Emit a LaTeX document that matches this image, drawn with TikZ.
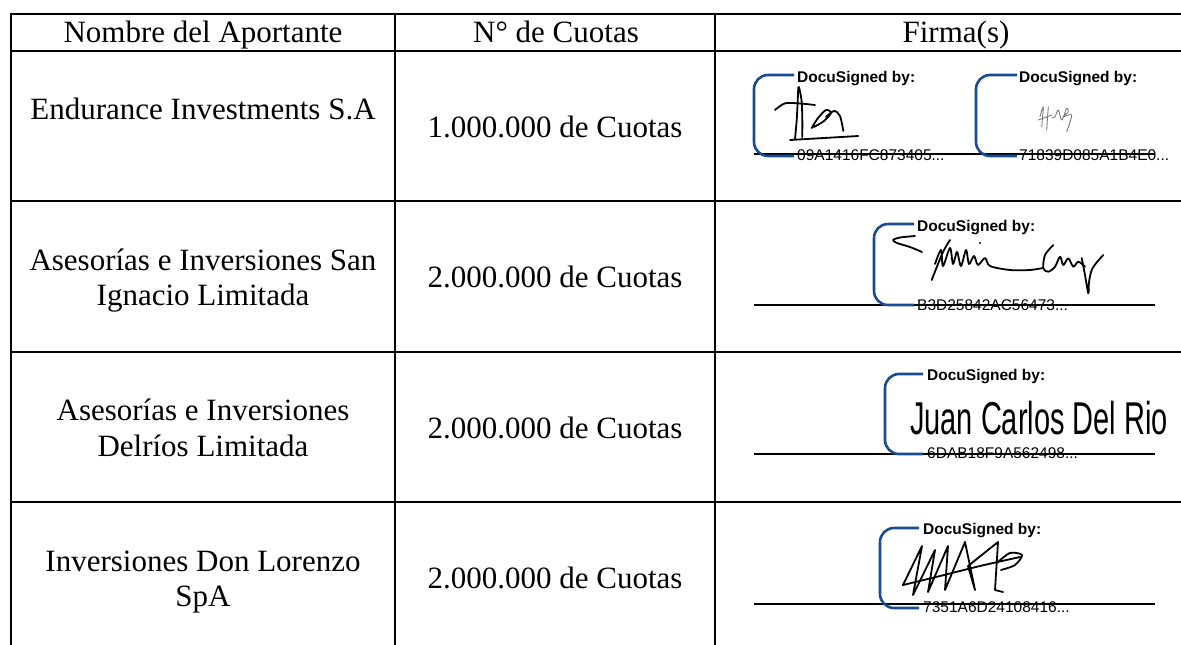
\documentclass[tikz,border=0pt]{standalone}
\usepackage{fontspec}
\setmainfont{Liberation Serif}
\newfontfamily\arialfont{Liberation Sans}
\definecolor{dsblue}{RGB}{25,75,145}
\definecolor{siggray}{RGB}{110,110,110}
\tikzset{
  gridline/.style={line width=2.7pt, line cap=rect},
  celltext/.style={inner sep=0pt, anchor=base, font=\fontsize{31}{37}\selectfont},
  dsbracket/.style={draw=dsblue, line width=2.6pt, rounded corners=14pt},
  dslabel/.style={inner sep=0pt, anchor=base west, font=\arialfont\bfseries\fontsize{15.5}{18}\selectfont},
  dshash/.style={inner sep=0pt, anchor=base west, font=\arialfont\fontsize{15.5}{18}\selectfont},
  sigline/.style={line width=1.4pt},
  sigstroke/.style={line width=1.8pt, line cap=round, line join=round},
  faintstroke/.style={draw=siggray, line width=0.8pt, line cap=round, line join=round},
  handwriting/.style={inner sep=0pt, anchor=base west, font=\arialfont\fontsize{46}{50}\selectfont},
}
\begin{document}
\begin{tikzpicture}[x=1pt,y=-1pt]
\useasboundingbox (0,0) rectangle (1181,645);
\fill[white] (0,0) rectangle (1181,645);

% ---- grid ----
\draw[gridline] (11,14) -- (1195,14);
\draw[gridline] (11,51) -- (1195,51);
\draw[gridline] (11,201) -- (1195,201);
\draw[gridline] (11,352) -- (1195,352);
\draw[gridline] (11,502) -- (1195,502);
\draw[gridline] (11,14) -- (11,660);
\draw[gridline] (395,14) -- (395,660);
\draw[gridline] (715,14) -- (715,660);

% ---- header ----
\node[celltext] (h1) at (203,42) {Nombre del Aportante};
\node[celltext] (h2) at (556,42) {N° de Cuotas};
\node[celltext] (h3) at (956,42) {Firma(s)};

% ---- rows ----
\node[celltext] (r1a) at (203,119) {Endurance Investments S.A};
\node[celltext] (r1b) at (555,137) {1.000.000 de Cuotas};

\node[celltext] (r2a) at (203,270) {Asesorías e Inversiones San};
\node[celltext] (r2a2) at (203,305) {Ignacio Limitada};
\node[celltext] (r2b) at (555,287) {2.000.000 de Cuotas};

\node[celltext] (r3a) at (203,420) {Asesorías e Inversiones};
\node[celltext] (r3a2) at (203,456) {Delríos Limitada};
\node[celltext] (r3b) at (555,438) {2.000.000 de Cuotas};

\node[celltext] (r4a) at (203,571) {Inversiones Don Lorenzo};
\node[celltext] (r4a2) at (203,606) {SpA};
\node[celltext] (r4b) at (555,588) {2.000.000 de Cuotas};

% ---- signature lines ----
\draw[sigline] (754,154) -- (1155,154);
\draw[sigline] (754,305) -- (1155,305);
\draw[sigline] (754,454) -- (1155,454);
\draw[sigline] (754,604) -- (1155,604);

% ---- DocuSign brackets ----
\draw[dsbracket] (794,75) -- (754,75) -- (754,156) -- (794,156);
\node[dslabel] (ds1) at (797,82) {DocuSigned by:};
\node[dshash] (hs1) at (797,160.5) {09A1416FC873405...};

\draw[dsbracket] (1017,75) -- (976,75) -- (976,156) -- (1017,156);
\node[dslabel] (ds2) at (1019,82) {DocuSigned by:};
\node[dshash] (hs2) at (1019,160.5) {71839D085A1B4E0...};

\draw[dsbracket] (914,224) -- (874,224) -- (874,305) -- (914,305);
\node[dslabel] (ds3) at (917,231) {DocuSigned by:};
\node[dshash] (hs3) at (917,310) {B3D25842AC56473...};

\draw[dsbracket] (923,374) -- (885,374) -- (885,454) -- (923,454);
\node[dslabel] (ds4) at (927,380) {DocuSigned by:};
\node[dshash] (hs4) at (927,458.5) {6DAB18F9A562498...};

\draw[dsbracket] (919,528) -- (880,528) -- (880,608) -- (919,608);
\node[dslabel] (ds5) at (923,534) {DocuSigned by:};
\node[dshash] (hs5) at (923,612.5) {7351A6D24108416...};

% ---- signature 1 (row 1, left) ----
\draw[sigstroke] plot[smooth] coordinates {(798.3,87.3) (797.5,105) (796.7,120) (795,139.3)};
\draw[sigstroke] plot[smooth] coordinates {(799,87) (801.5,100) (802.3,116.7) (802.3,137.3)};
\draw[sigstroke] plot[smooth] coordinates {(775,110) (785,103.3) (800,103.5) (815,105)};
\draw[sigstroke] plot[smooth] coordinates {(811.7,128) (818,118) (826,110) (831,113) (824,121) (814,127)};
\draw[sigstroke] plot[smooth] coordinates {(826,117) (834,111) (840,116) (843.3,131)};
\draw[sigstroke] (790,140) -- (858.3,136);

% ---- signature 2 (row 1, right, faint) ----
\draw[faintstroke] plot[smooth] coordinates {(1040,116.7) (1043.3,106.7) (1041.7,126.7)};
\draw[faintstroke] plot[smooth] coordinates {(1048.3,106.7) (1047.5,118) (1046.7,130)};
\draw[faintstroke] (1038.3,120) -- (1051.7,115);
\draw[faintstroke] plot[smooth] coordinates {(1052,118) (1055,116.7) (1058.3,110) (1061.7,120) (1066.7,108.3) (1068.3,111.7) (1063.3,116.7) (1071.7,115) (1066.7,131.7)};

% ---- signature 3 (row 2) ----
\draw[sigstroke] plot[smooth] coordinates {(915,236) (900,237.5) (893,240) (897,243) (910,247) (922,252)};
\draw[sigstroke] plot[smooth] coordinates {(950,240) (944,250) (938,264) (931.7,280)};
\draw[sigstroke] plot[smooth] coordinates {(935,264) (941,250) (943,266) (950,248) (953,264) (957,252) (961,266) (966,250) (969,264) (974,256) (978,265) (985,258) (990,266) (1010,270) (1030,270) (1043,268)};
\fill (980,243) circle (1.2pt);
\draw[sigstroke] plot[smooth] coordinates {(1053.3,245) (1045,255) (1043.3,268.3) (1048.3,271.7) (1055,266.7) (1060,256.7) (1063.3,265) (1068.3,258.3) (1073.3,266.7) (1078.3,261.7) (1085,266.7)};
\draw[sigstroke] plot[smooth] coordinates {(1081.7,258) (1085,275) (1088.3,293.3) (1089,282) (1091.7,270) (1097,262) (1103.3,255)};

% ---- signature 4 (row 3, handwriting) ----
\node[handwriting] (hw) at (910,434) {\scalebox{0.63}[1]{Juan Carlos Del Rio}};

% ---- signature 5 (row 4, scribble) ----
\draw[sigstroke] (903,585) -- (922,546) -- (913,595) -- (935,550) -- (928,592) -- (948,546) -- (945,590) -- (965,542) -- (975,590) -- (968,566) -- (998,542) -- (995,590) -- (1003,592);
\draw[sigstroke] plot[smooth] coordinates {(998,562) (1010,553) (1022,555) (1015,565) (1001,570)};
\draw[sigstroke] plot[smooth] coordinates {(903,585) (940,576) (980,566) (1020,557)};
\end{tikzpicture}
\end{document}
